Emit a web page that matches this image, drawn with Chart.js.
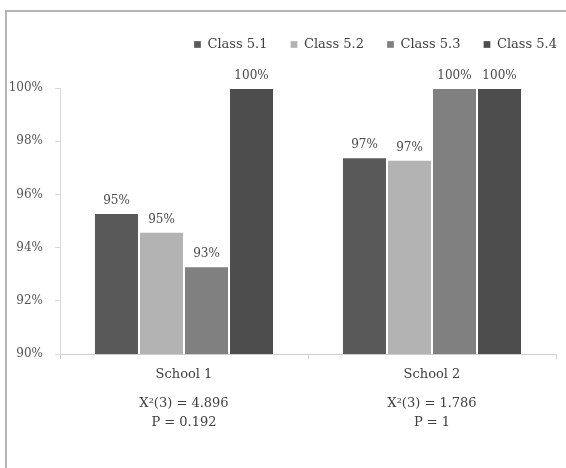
<!DOCTYPE html>
<html>
<head>
<meta charset="utf-8">
<script src="https://cdn.jsdelivr.net/npm/chart.js@4"></script>
<style>
  html, body { margin: 0; padding: 0; background: #ffffff; }
  #wrap { width: 566px; height: 468px; }
</style>
</head>
<body>
<div id="wrap"><canvas id="c" width="566" height="468"></canvas></div>
<script>
// Share of pupils per class, by school (fractions of 1)
const schools = ['School 1', 'School 2'];
const seriesNames = ['Class 5.1', 'Class 5.2', 'Class 5.3', 'Class 5.4'];
const class51 = [0.953, 0.974];
const class52 = [0.946, 0.973];
const class53 = [0.933, 1.000];
const class54 = [1.000, 1.000];
const yTicks = [0.90, 0.92, 0.94, 0.96, 0.98, 1.00];
// Chi-square results printed under each school
const chiLines = ['X\u00B2(3) = 4.896', 'X\u00B2(3) = 1.786'];
const pLines = ['P = 0.192', 'P = 1'];

const seriesValues = [class51, class52, class53, class54];
const seriesColors = ['#595959', '#b3b3b3', '#808080', '#4d4d4d'];
const SERIF = '"DejaVu Serif", "Liberation Serif", serif';

const pct = v => Math.round(v * 100) + '%';

// Thin frame along the top and left edges
const framePlugin = {
  id: 'frame',
  beforeDraw(chart) {
    const ctx = chart.ctx;
    ctx.save();
    ctx.strokeStyle = '#b4b4b4';
    ctx.lineWidth = 2;
    ctx.beginPath();
    ctx.moveTo(6, 468);
    ctx.lineTo(6, 11);
    ctx.lineTo(566, 11);
    ctx.stroke();
    ctx.restore();
  }
};

// Value labels above every bar
const valueLabels = {
  id: 'valueLabels',
  afterDatasetsDraw(chart) {
    const ctx = chart.ctx;
    ctx.save();
    ctx.font = '12px ' + SERIF;
    ctx.fillStyle = '#4a4a4a';
    ctx.textAlign = 'center';
    ctx.textBaseline = 'bottom';
    chart.data.datasets.forEach((ds, i) => {
      chart.getDatasetMeta(i).data.forEach((bar, j) => {
        ctx.fillText(pct(ds.data[j]), bar.x, bar.y - 6);
      });
    });
    ctx.restore();
  }
};

// Test statistics below the category labels
const statLines = {
  id: 'statLines',
  afterDraw(chart) {
    const ctx = chart.ctx;
    const x = chart.scales.x;
    const base = chart.chartArea.bottom;
    ctx.save();
    ctx.font = '13px ' + SERIF;
    ctx.fillStyle = '#404040';
    ctx.textAlign = 'center';
    ctx.textBaseline = 'middle';
    schools.forEach((s, i) => {
      const cx = x.getPixelForValue(i);
      ctx.fillText(chiLines[i], cx, base + 50);
      ctx.fillText(pLines[i], cx, base + 69);
    });
    ctx.restore();
  }
};

// Extra room under the legend, and legend pushed flush with the plot's right edge
const legendTweaks = {
  id: 'legendTweaks',
  beforeInit(chart) {
    const legend = chart.legend;
    const fit = legend.fit;
    legend.fit = function () {
      fit.bind(this)();
      this.height += 27;
    };
    const draw = legend.draw;
    legend.draw = function () {
      const ctx = this.ctx;
      ctx.save();
      ctx.translate(24, 0);
      draw.bind(this)();
      ctx.restore();
    };
  }
};

new Chart(document.getElementById('c'), {
  type: 'bar',
  data: {
    labels: schools,
    datasets: seriesNames.map((name, i) => ({
      label: name,
      data: seriesValues[i],
      backgroundColor: seriesColors[i],
      borderColor: 'rgba(255,255,255,0.3)',
      borderWidth: 1,
      categoryPercentage: 0.726,
      barPercentage: 1.0
    }))
  },
  options: {
    responsive: false,
    animation: false,
    layout: { padding: { top: 15, right: 10, left: 0, bottom: 0 } },
    plugins: {
      tooltip: { enabled: false },
      legend: {
        position: 'top',
        align: 'end',
        labels: {
          boxWidth: 7,
          boxHeight: 7,
          padding: 23,
          color: '#404040',
          font: { family: SERIF, size: 13 }
        }
      }
    },
    scales: {
      x: {
        afterFit(scale) { scale.height = 114; },
        grid: {
          display: true,
          drawOnChartArea: false,
          offset: true,
          color: '#cfcfcf',
          tickLength: 5
        },
        border: { color: '#cfcfcf', width: 1 },
        ticks: {
          color: '#404040',
          padding: 8,
          font: { family: SERIF, size: 13 }
        }
      },
      y: {
        min: 0.90,
        max: 1.00,
        afterFit(scale) { scale.width = 60; },
        afterBuildTicks(scale) { scale.ticks = yTicks.map(v => ({ value: v })); },
        grid: {
          display: true,
          drawOnChartArea: false,
          color: '#d9d9d9',
          tickLength: 5
        },
        border: { color: '#d9d9d9', width: 1 },
        ticks: {
          color: '#555555',
          padding: 12,
          font: { family: SERIF, size: 12 },
          callback: v => pct(v)
        }
      }
    }
  },
  plugins: [framePlugin, valueLabels, statLines, legendTweaks]
});
</script>
</body>
</html>
